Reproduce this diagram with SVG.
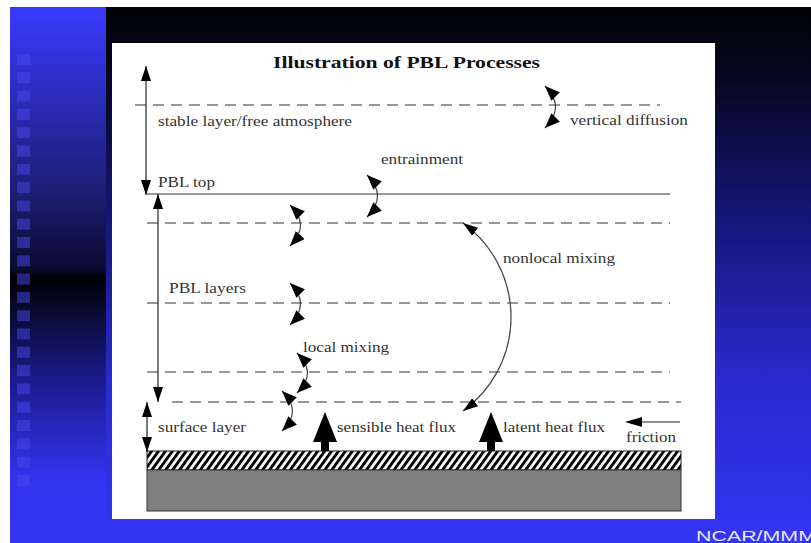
<svg xmlns="http://www.w3.org/2000/svg" width="811" height="543" viewBox="0 0 811 543">
<style>
.lbl{font-family:"Liberation Serif","Times New Roman",serif;font-size:14px;fill:#333}
.ttl{font-family:"Liberation Serif","Times New Roman",serif;font-size:17.5px;font-weight:bold;fill:#111}
.dash{stroke:#777;stroke-width:1.3;stroke-dasharray:11 7;fill:none}
.shaft{stroke:#222;stroke-width:1.2;fill:none}
.curl{stroke:#444;stroke-width:1.2;fill:none;marker-start:url(#ah);marker-end:url(#ah)}
.head{fill:#000}
.sq{fill:#4848ec;opacity:0.5}
</style>
<defs>
<linearGradient id="gR" gradientUnits="userSpaceOnUse" x1="0" y1="7" x2="0" y2="543">
<stop offset="0" stop-color="#02020a"/>
<stop offset="0.1" stop-color="#050518"/>
<stop offset="0.4" stop-color="#16167a"/>
<stop offset="0.7" stop-color="#2a2ad0"/>
<stop offset="1" stop-color="#3434f4"/>
</linearGradient>
<linearGradient id="gL" gradientUnits="userSpaceOnUse" x1="0" y1="7" x2="0" y2="543">
<stop offset="0" stop-color="#3a3aff"/>
<stop offset="0.36" stop-color="#1c1c6e"/>
<stop offset="0.49" stop-color="#0a0a30"/>
<stop offset="0.505" stop-color="#000004"/>
<stop offset="0.7" stop-color="#1c1c90"/>
<stop offset="0.88" stop-color="#3333ee"/>
<stop offset="1" stop-color="#3434f4"/>
</linearGradient>
<pattern id="hatch" patternUnits="userSpaceOnUse" width="5.6" height="10" patternTransform="rotate(36)">
<rect width="5.6" height="10" fill="#fff"/>
<rect width="2.9" height="10" fill="#000"/>
</pattern>
<marker id="ah" markerUnits="userSpaceOnUse" markerWidth="15" markerHeight="12" refX="15" refY="6" orient="auto-start-reverse">
<path d="M0,0 L15,6 L0,12 z" fill="#000"/>
</marker>
<marker id="ah2" markerUnits="userSpaceOnUse" markerWidth="15" markerHeight="10" refX="15" refY="5" orient="auto-start-reverse">
<path d="M0,0 L15,5 L0,10 z" fill="#000"/>
</marker>
</defs>

<g id="background">
<rect x="0" y="0" width="811" height="543" fill="#fff"/>
<rect x="10" y="7" width="801" height="536" fill="url(#gR)"/>
<rect x="10" y="7" width="96" height="536" fill="url(#gL)"/>
<rect x="10" y="519" width="801" height="24" fill="#3434f2"/>
<g id="squares">
<rect class="sq" x="17" y="54" width="13" height="11"/>
<rect class="sq" x="17" y="72.3" width="13" height="11"/>
<rect class="sq" x="17" y="90.6" width="13" height="11"/>
<rect class="sq" x="17" y="108.9" width="13" height="11"/>
<rect class="sq" x="17" y="127.2" width="13" height="11"/>
<rect class="sq" x="17" y="145.5" width="13" height="11"/>
<rect class="sq" x="17" y="163.8" width="13" height="11"/>
<rect class="sq" x="17" y="182.1" width="13" height="11"/>
<rect class="sq" x="17" y="200.4" width="13" height="11"/>
<rect class="sq" x="17" y="218.7" width="13" height="11"/>
<rect class="sq" x="17" y="237" width="13" height="11"/>
<rect class="sq" x="17" y="255.3" width="13" height="11"/>
<rect class="sq" x="17" y="273.6" width="13" height="11"/>
<rect class="sq" x="17" y="291.9" width="13" height="11"/>
<rect class="sq" x="17" y="310.2" width="13" height="11"/>
<rect class="sq" x="17" y="328.5" width="13" height="11"/>
<rect class="sq" x="17" y="346.8" width="13" height="11"/>
<rect class="sq" x="17" y="365.1" width="13" height="11"/>
<rect class="sq" x="17" y="383.4" width="13" height="11"/>
<rect class="sq" x="17" y="401.7" width="13" height="11"/>
<rect class="sq" x="17" y="420" width="13" height="11"/>
<rect class="sq" x="17" y="438.3" width="13" height="11"/>
<rect class="sq" x="17" y="456.6" width="13" height="11"/>
<rect class="sq" x="17" y="474.9" width="13" height="11"/>
</g>
<text x="696" y="541" font-family="'Liberation Sans',Arial,sans-serif" font-size="15" fill="#e6e6f2" textLength="120" lengthAdjust="spacingAndGlyphs">NCAR/MMM</text>
</g>

<rect id="panel" x="112" y="43" width="603" height="476" fill="#fff"/>

<text class="ttl" x="273" y="68" textLength="267" lengthAdjust="spacingAndGlyphs">Illustration of PBL Processes</text>

<g id="layers">
<path class="dash" d="M135,105 H660"/>
<path d="M147,194 H670" stroke="#777" stroke-width="1.5" fill="none"/>
<path class="dash" d="M147,223 H670"/>
<path class="dash" d="M147,303 H670"/>
<path class="dash" d="M147,372 H670"/>
<path class="dash" d="M172,402 H681"/>
</g>

<g id="ground">
<rect x="147" y="451" width="534" height="19" fill="url(#hatch)" stroke="#222" stroke-width="1"/>
<rect x="147" y="470" width="534" height="41" fill="#808080" stroke="#333" stroke-width="1"/>
</g>

<g id="connectors">
<path class="shaft" d="M146,66 V195" marker-start="url(#ah2)" marker-end="url(#ah2)"/>
<path class="shaft" d="M158,194 V402" marker-start="url(#ah2)" marker-end="url(#ah2)"/>
<path class="shaft" d="M147,402 V452" marker-start="url(#ah2)" marker-end="url(#ah2)"/>
<path class="curl" d="M545,86 C559,100 559,114 545,128"/>
<path class="curl" d="M367,175 C381,189 381,203 367,217"/>
<path class="curl" d="M290,205 C304,219 304,231 290,246"/>
<path class="curl" d="M290,283 C304,297 304,311 290,325"/>
<path class="curl" d="M297,353 C311,367 311,379 297,393"/>
<path class="curl" d="M282,391 C296,405 296,417 282,431"/>
<path d="M463,223 A116,116 0 0 1 463,411" stroke="#444" stroke-width="1.2" fill="none" marker-start="url(#ah2)" marker-end="url(#ah2)"/>
<polygon class="head" points="325,412 337,442 329,442 329,451 321,451 321,442 313,442"/>
<polygon class="head" points="491,412 503,442 495,442 495,451 487,451 487,442 479,442"/>
<path d="M680,422 H640" stroke="#222" stroke-width="1.2"/>
<polygon class="head" points="625,422 642,417 642,427"/>
</g>

<g id="labels">
<text class="lbl" x="158" y="126" textLength="194" lengthAdjust="spacingAndGlyphs">stable layer/free atmosphere</text>
<text class="lbl" x="570" y="125" textLength="118" lengthAdjust="spacingAndGlyphs">vertical diffusion</text>
<text class="lbl" x="381" y="164" textLength="82" lengthAdjust="spacingAndGlyphs">entrainment</text>
<text class="lbl" x="158" y="187" textLength="57" lengthAdjust="spacingAndGlyphs">PBL top</text>
<text class="lbl" x="503" y="263" textLength="112" lengthAdjust="spacingAndGlyphs">nonlocal mixing</text>
<text class="lbl" x="169" y="293" textLength="77" lengthAdjust="spacingAndGlyphs">PBL layers</text>
<text class="lbl" x="303" y="352" textLength="86" lengthAdjust="spacingAndGlyphs">local mixing</text>
<text class="lbl" x="158" y="432" textLength="88" lengthAdjust="spacingAndGlyphs">surface layer</text>
<text class="lbl" x="337" y="432" textLength="119" lengthAdjust="spacingAndGlyphs">sensible heat flux</text>
<text class="lbl" x="503" y="432" textLength="102" lengthAdjust="spacingAndGlyphs">latent heat flux</text>
<text class="lbl" x="626" y="442" textLength="50" lengthAdjust="spacingAndGlyphs">friction</text>
</g>
</svg>
